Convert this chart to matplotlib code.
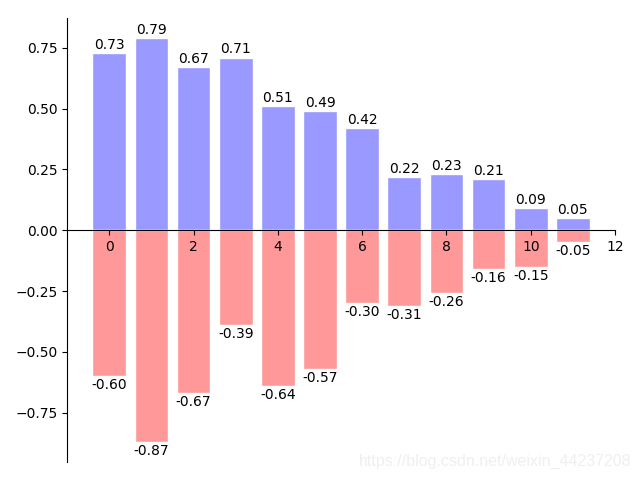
import matplotlib
matplotlib.use("Agg")
import matplotlib.pyplot as plt
import numpy as np

x = np.arange(12)
pos_vals = [0.73, 0.79, 0.67, 0.71, 0.51, 0.49, 0.42, 0.22, 0.23, 0.21, 0.09, 0.05]
neg_vals = [-0.60, -0.87, -0.67, -0.39, -0.64, -0.57, -0.30, -0.31, -0.26, -0.16, -0.15, -0.05]

fig, ax = plt.subplots(figsize=(6.4, 4.8), dpi=100)
fig.subplots_adjust(left=0.105, right=0.961, top=0.9625, bottom=0.0375)

ax.bar(x, pos_vals, facecolor="#9999ff", edgecolor="white")
ax.bar(x, neg_vals, facecolor="#ff9999", edgecolor="white")

for xi, y in zip(x, pos_vals):
    ax.text(xi, y + 0.005, "%.2f" % y, ha="center", va="bottom")
for xi, y in zip(x, neg_vals):
    ax.text(xi, y - 0.008, "%.2f" % y, ha="center", va="top")

ax.set_xlim(-1, 12)
ax.spines["right"].set_color("none")
ax.spines["top"].set_color("none")
ax.spines["bottom"].set_position(("data", 0))

# csdn watermark
fig.text(0.986, 0.038, "https://blog.csdn.net/weixin_44237208", ha="right", va="center",
         color="#efefef", fontsize=11.5, family="Liberation Sans")

plt.savefig("out.png")
